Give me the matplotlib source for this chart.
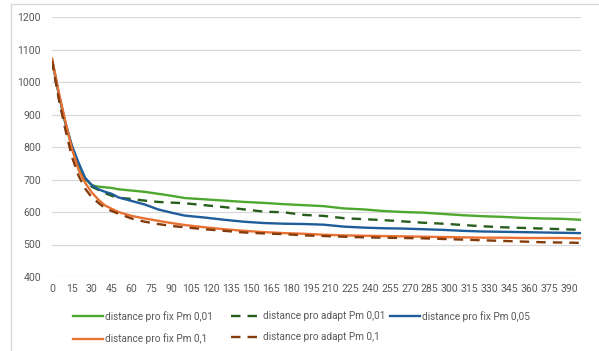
import matplotlib
matplotlib.use("Agg")
import matplotlib.pyplot as plt
from matplotlib.lines import Line2D

# --- Dados ---
geracoes = [0, 5, 10, 15, 20, 25, 30, 35, 40, 45, 50, 60, 70, 80, 90, 100, 115, 130,
            145, 160, 175, 190, 205, 220, 235, 250, 265, 280, 295, 310, 325, 340,
            355, 370, 385, 399]

fix_001 = [1070, 965, 875, 800, 740, 702, 682, 678, 676, 674, 670, 666, 662, 656, 650,
           643, 639, 635, 631, 628, 624, 621, 618, 611, 608, 603, 600, 598, 594, 590,
           587, 585, 582, 580, 579, 576]
adapt_001 = [1065, 955, 865, 795, 740, 700, 678, 668, 658, 650, 644, 640, 635, 631, 629,
             627, 621, 615, 608, 601, 599, 591, 588, 581, 578, 575, 571, 567, 564, 560,
             556, 553, 551, 549, 547, 545]
fix_005 = [1070, 965, 875, 805, 752, 705, 683, 670, 662, 656, 645, 634, 623, 608, 598,
           589, 583, 576, 570, 566, 564, 563, 561, 555, 552, 550, 549, 547, 545, 542,
           540, 539, 538, 537, 536, 535]
fix_01 = [1072, 970, 880, 795, 730, 690, 660, 638, 620, 610, 600, 588, 580, 573, 566,
          560, 553, 547, 542, 538, 535, 533, 530, 528, 527, 526, 525, 524, 523, 522,
          521, 521, 520, 520, 520, 519]
adapt_01 = [1065, 950, 855, 770, 712, 672, 645, 628, 612, 603, 595, 580, 570, 563, 557,
            553, 547, 542, 537, 534, 532, 528, 526, 524, 522, 521, 520, 519, 517, 515,
            513, 511, 509, 507, 506, 505]

x_ticks = list(range(0, 391, 15))
y_ticks = [400, 500, 600, 700, 800, 900, 1000, 1100, 1200]

# --- Estilo ---
GRAY_TXT = "#595959"
GRID = "#D9D9D9"
plt.rcParams["font.family"] = ["Roboto", "DejaVu Sans"]

fig = plt.figure(figsize=(5.99, 3.51), dpi=100)
ax = fig.add_axes([52 / 599, 1 - 277 / 351, (581 - 52) / 599, (277 - 17) / 351])

series = [
    (fix_001, "distance pro fix Pm 0,01", "#4EA72E", "-"),
    (adapt_001, "distance pro adapt Pm 0,01", "#275E1C", "--"),
    (fix_005, "distance pro fix Pm 0,05", "#1F5C9A", "-"),
    (fix_01, "distance pro fix Pm 0,1", "#E97132", "-"),
    (adapt_01, "distance pro adapt Pm 0,1", "#843C0C", "--"),
]
handles = {}
for vals, lab, col, ls in series:
    if ls == "--":
        ln, = ax.plot(geracoes, vals, color=col, lw=1.7, dashes=(4, 3), label=lab)
    else:
        ln, = ax.plot(geracoes, vals, color=col, lw=1.7, label=lab)
    handles[lab] = ln

ax.set_xlim(0, 399)
ax.set_ylim(400, 1200)
ax.set_xticks(x_ticks)
ax.set_yticks(y_ticks)
ax.tick_params(length=0, labelsize=7.6, colors=GRAY_TXT)
ax.tick_params(axis="x", pad=5)
ax.tick_params(axis="y", pad=8)
ax.grid(axis="y", color=GRID, lw=0.9)
ax.set_axisbelow(True)
for s in ax.spines.values():
    s.set_visible(False)

# legenda em colunas de largura igual (como no Excel)
colunas = [
    (["distance pro fix Pm 0,01", "distance pro fix Pm 0,1"], 70),
    (["distance pro adapt Pm 0,01", "distance pro adapt Pm 0,1"], 228),
    (["distance pro fix Pm 0,05"], 387),
]
for labs, x0 in colunas:
    leg = fig.legend([handles[k] for k in labs], labs, frameon=False,
                     loc="upper left", bbox_to_anchor=(x0 / 599, 1 - 308 / 351),
                     borderaxespad=0, borderpad=0.3,
                     fontsize=7.2, handlelength=3.0, handletextpad=0.2,
                     labelspacing=1.15)
    for t in leg.get_texts():
        t.set_color(GRAY_TXT)

# moldura da área do gráfico
fig.add_artist(Line2D([11 / 599, 11 / 599], [0, 1 - 4 / 351], color=GRID, lw=1,
                      transform=fig.transFigure))
fig.add_artist(Line2D([11 / 599, 1], [1 - 4 / 351, 1 - 4 / 351], color=GRID, lw=1,
                      transform=fig.transFigure))

fig.savefig("out.png", dpi=100)
